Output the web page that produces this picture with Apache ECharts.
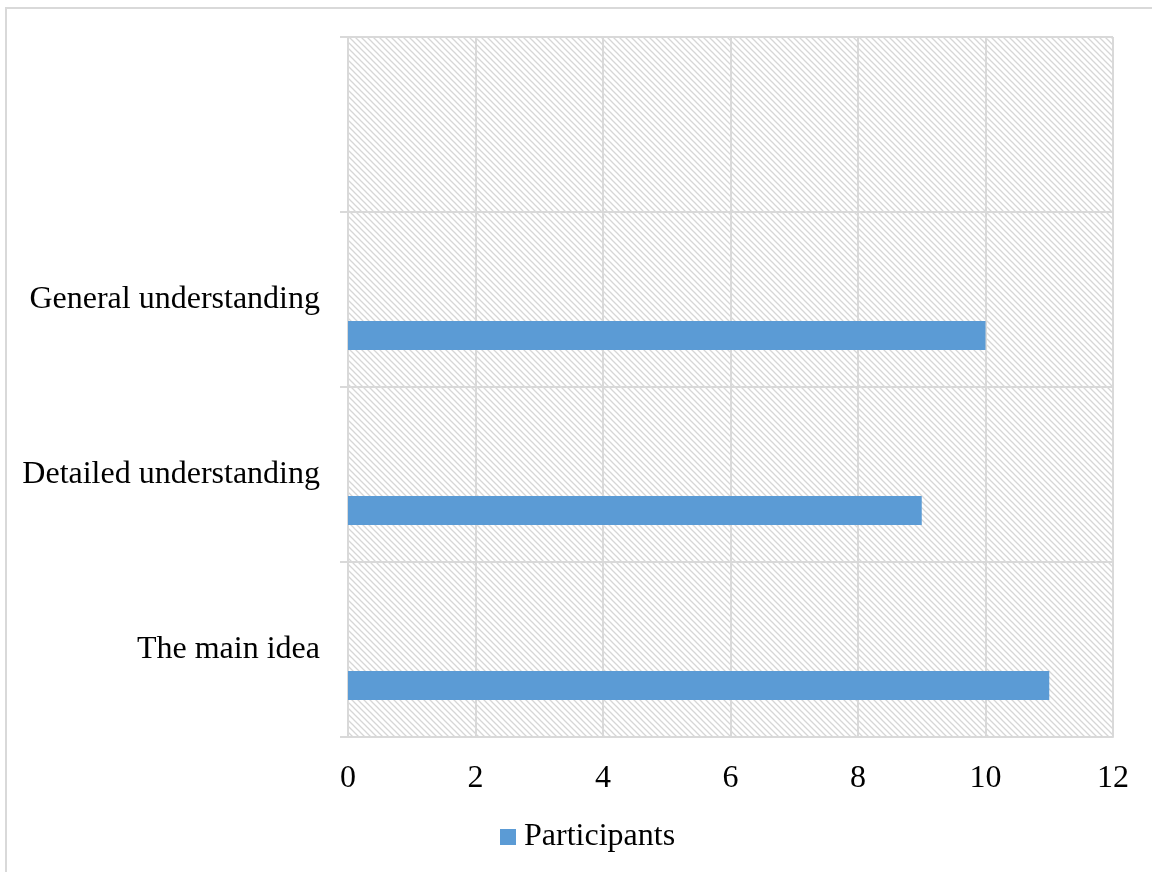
<!DOCTYPE html>
<html>
<head>
<meta charset="utf-8">
<script src="https://cdn.jsdelivr.net/npm/echarts@6/dist/echarts.min.js"></script>
<style>
  html, body { margin: 0; padding: 0; background: #fff; }
  #main { width: 1152px; height: 872px; }
</style>
</head>
<body>
<div id="main"></div>
<script>
document.addEventListener('DOMContentLoaded', function() {
    // categories bottom to top, the top one is left empty
    let categories = ['The main idea', 'Detailed understanding', 'General understanding', ''];
    let participants = [11, 9, 10, null];
    let blank = [null, null, null, null];
    let xTicks = [0, 2, 4, 6, 8, 10, 12];

    // light diagonal hatch for the plot area
    function hatch() {
        let c = document.createElement('canvas');
        c.width = 6;
        c.height = 6;
        let ctx = c.getContext('2d');
        ctx.fillStyle = '#ffffff';
        ctx.fillRect(0, 0, 6, 6);
        ctx.strokeStyle = '#d6d6d6';
        ctx.lineWidth = 1.3;
        ctx.beginPath();
        ctx.moveTo(-1, -1); ctx.lineTo(7, 7);
        ctx.moveTo(-4, 2); ctx.lineTo(4, 10);
        ctx.moveTo(2, -4); ctx.lineTo(10, 4);
        ctx.stroke();
        return { image: c, repeat: 'repeat' };
    }

    let font = 'Liberation Serif';
    var myChart = echarts.init(document.getElementById('main'));

    var option = {
        animation: false,
        textStyle: { fontFamily: font },
        graphic: [{
            type: 'rect',
            shape: { x: 6, y: 8, width: 1200, height: 900 },
            style: { fill: 'none', stroke: '#d9d9d9', lineWidth: 2 },
            silent: true
        }],
        grid: {
            left: 348, right: 39, top: 37, bottom: 135,
            show: true,
            borderWidth: 0,
            backgroundColor: hatch()
        },
        legend: {
            data: ['Participants'],
            bottom: 19,
            left: 500,
            padding: 0,
            itemWidth: 16,
            itemHeight: 16,
            itemGap: 8,
            icon: 'rect',
            textStyle: { fontFamily: font, fontSize: 32, color: '#000', padding: [0, 0, 0, 3] }
        },
        xAxis: {
            type: 'value',
            min: xTicks[0],
            max: xTicks[xTicks.length - 1],
            interval: 2,
            axisLine: { show: true, lineStyle: { color: '#d9d9d9', width: 2 } },
            axisTick: { show: false },
            splitLine: { show: true, lineStyle: { color: '#d9d9d9', width: 2 } },
            axisLabel: { fontFamily: font, fontSize: 32, color: '#000', margin: 26 }
        },
        yAxis: {
            type: 'category',
            data: categories,
            axisLine: { show: true, lineStyle: { color: '#d9d9d9', width: 2 } },
            axisTick: { show: true, length: 8, lineStyle: { color: '#d9d9d9', width: 2 } },
            splitLine: { show: true, lineStyle: { color: '#d9d9d9', width: 2 } },
            axisLabel: { fontFamily: font, fontSize: 32, color: '#000', margin: 28 }
        },
        series: [{
            name: 'blank',
            type: 'bar',
            data: blank,
            barWidth: 29,
            barGap: '148%'
        }, {
            name: 'Participants',
            type: 'bar',
            data: participants,
            barWidth: 29,
            barGap: '148%',
            itemStyle: { color: '#5b9bd5' }
        }]
    };

    myChart.setOption(option);
});
</script>
</body>
</html>
